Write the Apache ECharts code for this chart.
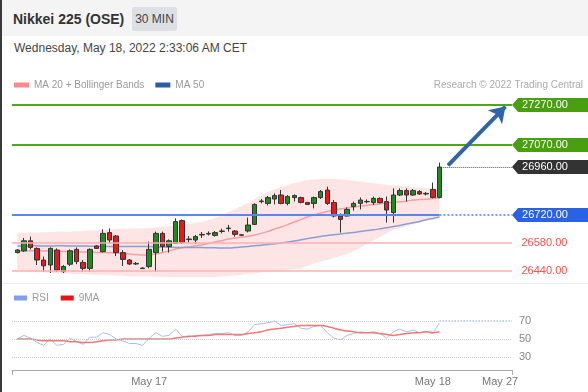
<!DOCTYPE html>
<html>
<head>
<meta charset="utf-8">
<script src="https://cdn.jsdelivr.net/npm/echarts/dist/echarts.min.js"></script>
<style>
  html, body { margin: 0; padding: 0; background: #fff; }
  body { width: 588px; height: 392px; position: relative; overflow: hidden; font-family: "Liberation Sans", Arial, sans-serif; }
  #leftEdge { position: absolute; left: 0; top: 0; width: 2px; height: 392px; background: #3a3a3a; z-index: 3; }
  #header { position: absolute; left: 0; top: 0; width: 588px; height: 36px; background: #f4f4f4; }
  #title { position: absolute; left: 13px; top: 0; line-height: 38px; font-size: 14px; font-weight: bold; color: #333; }
  #tf { position: absolute; left: 132px; top: 7px; width: 45px; height: 24px; line-height: 24px; text-align: center; background: #dcdfe3; color: #444; font-size: 12px; border-radius: 2px; }
  #date { position: absolute; left: 14px; top: 41px; line-height: 14px; font-size: 12px; color: #444; }
  #sep { position: absolute; left: 0; top: 283px; width: 588px; height: 1px; background: #ececec; }
  #chart { position: absolute; left: 0; top: 0; width: 588px; height: 392px; z-index: 2; }
</style>
</head>
<body>
<div id="header"><div id="title">Nikkei 225 (OSE)</div><div id="tf">30 MIN</div></div>
<div id="date">Wednesday, May 18, 2022 2:33:06 AM CET</div>
<div id="sep"></div>
<div id="leftEdge"></div>
<div id="chart"></div>
<script>
// ---- Data ----
const opens  = [26532,26541,26591,26553,26495,26470,26545,26437,26474,26548,26483,26453,26565,26537,26632,26615,26532,26495,26478,26455,
                26462,26532,26628,26562,26578,26692,26597,26595,26620,26625,26618,26638,26652,26640,26621,26640,26673,26790,26778,26800,
                26820,26778,26807,26807,26783,26778,26807,26845,26782,26715,26715,26762,26778,26788,26782,26803,26787,26732,26820,26842,
                26820,26837,26828,26848,26808];
const closes = [26545,26591,26558,26495,26466,26553,26445,26462,26541,26487,26453,26548,26553,26628,26595,26532,26498,26475,26475,26452,
                26548,26628,26562,26591,26687,26582,26600,26612,26623,26628,26632,26640,26655,26623,26619,26670,26773,26787,26807,26817,
                26778,26812,26817,26783,26773,26807,26837,26778,26715,26698,26748,26778,26795,26786,26803,26782,26745,26820,26842,26820,
                26842,26825,26825,26808,26960];
const lows   = [26528,26535,26548,26470,26437,26430,26437,26430,26465,26474,26437,26437,26550,26532,26578,26515,26465,26470,26470,26450,
                26453,26437,26537,26532,26575,26575,26582,26575,26605,26618,26612,26628,26637,26612,26617,26633,26670,26778,26768,26773,
                26773,26768,26787,26778,26770,26753,26800,26770,26708,26632,26712,26742,26748,26778,26770,26778,26682,26682,26815,26787,
                26815,26820,26818,26803,26803];
const highs  = [26550,26605,26612,26558,26512,26558,26553,26470,26548,26558,26495,26553,26570,26648,26653,26620,26545,26500,26485,26458,
                26587,26637,26637,26598,26703,26698,26615,26620,26635,26638,26640,26652,26670,26645,26623,26707,26778,26800,26815,26828,
                26845,26820,26823,26812,26785,26812,26845,26862,26795,26728,26758,26787,26808,26798,26812,26808,26812,26853,26853,26853,
                26850,26845,26835,26882,26982];
const ma20   = [26540,26540,26541,26541,26540,26540,26539,26538,26537,26536,26535,26534,26533,26532,26531,26530,26528,26525,26522,26520,
                26521,26525,26532,26540,26550,26556,26561,26566,26570,26578,26585,26592,26600,26605,26610,26614,26620,26628,26638,26650,
                26660,26672,26685,26697,26710,26720,26730,26738,26745,26750,26755,26760,26765,26768,26772,26776,26780,26783,26786,26789,
                26795,26797,26799,26802,26805];
const ma50   = [26565,26565,26566,26566,26565,26565,26566,26566,26565,26565,26565,26564,26564,26563,26563,26563,26562,26562,26562,26562,
                26562,26561,26560,26559,26558,26558,26557,26557,26557,26556,26556,26555,26555,26557,26560,26563,26566,26569,26573,26576,
                26580,26585,26590,26596,26602,26608,26613,26618,26621,26625,26629,26633,26637,26642,26646,26651,26656,26662,26668,26675,
                26681,26688,26696,26703,26710];
const bbUpper = [26630,26631,26632,26633,26634,26635,26636,26637,26638,26639,26640,26642,26644,26646,26648,26650,26651,26652,26653,26654,
                 26655,26658,26661,26664,26667,26670,26676,26680,26685,26695,26705,26718,26735,26750,26765,26780,26800,26818,26835,26848,
                 26860,26870,26880,26888,26895,26898,26900,26900,26900,26898,26895,26891,26887,26883,26879,26875,26871,26868,26865,26862,
                 26859,26856,26854,26852,26850];
const bbLower = [26445,26442,26438,26435,26432,26430,26428,26427,26426,26425,26425,26423,26421,26420,26419,26418,26416,26414,26413,26412,
                 26412,26411,26411,26410,26410,26410,26410,26410,26410,26410,26410,26412,26415,26418,26421,26425,26428,26432,26436,26440,
                 26443,26446,26449,26452,26465,26478,26487,26495,26505,26515,26525,26540,26555,26575,26592,26610,26628,26645,26655,26665,
                 26675,26683,26692,26700,26705];
const rsi    = [50,54,51,46,43,50,43,44,51,47,44,52,52,57,55,50,48,45,45,43,
                51,57,53,54,61,53,52,54,54,55,56,56,57,54,54,58,66,67,68,70,
                65,66,67,62,61,64,65,57,51,49,54,56,58,57,58,56,51,58,61,58,
                60,57,58,56,68];
const rsiMA  = [50,50,50,49,48,48,48,48,47,47,46,46,47,48,49,49,50,50,50,50,
                50,50,50,50,51,52,53,53,54,54,55,55,55,55,55,56,57,58,60,61,
                62,63,64,65,65,65,65,64,62,60,59,58,57,57,57,56,55,54,55,56,
                57,57,58,57,58];
const levelsGreen = [27270, 27070];
const levelsRed   = [26580, 26440];
const levelBlue   = 26720;
const lastPrice   = 26960;
const projection  = [[65.3, 26968], [74, 27262]];   // arrow: from last close toward target
const xTickPos    = [20, 63, 73.2];
const xTickLabels = ['May 17', 'May 18', 'May 27'];
const rsiTicks    = [30, 50, 70];
const X_MIN = -0.8, X_MAX = 75;

// ---- Build series data ----
const idx = opens.map((_, i) => i);
const lastIdx = idx.length - 1;
const candleData = idx.map(i => [i, opens[i], closes[i], lows[i], highs[i]]);
const pair = arr => arr.map((v, i) => [i, v]);

const FONT = '"Liberation Sans", Arial, sans-serif';
const tagPath = 'path://M0,7 L6,0 L76,0 L76,14 L6,14 Z';

function tag(value, color) {
  return {
    coord: [X_MAX, value], value: value.toFixed(2),
    symbol: tagPath, symbolSize: [76, 14], symbolOffset: [38, 0], symbolKeepAspect: false,
    itemStyle: { color: color },
    label: { show: true, position: 'inside', color: '#fff', fontSize: 11, fontFamily: FONT, offset: [-5, 0], formatter: p => p.value }
  };
}
function plainTag(value, color) {
  return {
    coord: [X_MAX, value], value: value.toFixed(2),
    symbol: 'rect', symbolSize: [1, 1], itemStyle: { color: 'rgba(0,0,0,0)' },
    label: { show: true, position: 'right', distance: 9, color: color, fontSize: 11, fontFamily: FONT, formatter: p => p.value }
  };
}

const chart = echarts.init(document.getElementById('chart'), null, { renderer: 'canvas' });
chart.setOption({
  animation: false,
  textStyle: { fontFamily: FONT },
  grid: [
    { left: 12, width: 500, top: 93, height: 190 },
    { left: 12, width: 500, top: 312, height: 54 }
  ],
  legend: [
    {
      left: 9, top: 75, icon: 'rect', itemWidth: 15, itemHeight: 5, itemGap: 11, selectedMode: false,
      textStyle: { color: '#999', fontSize: 10, fontFamily: FONT },
      data: [
        { name: 'MA 20 + Bollinger Bands', itemStyle: { color: '#f88a8a' } },
        { name: 'MA 50', itemStyle: { color: '#2d5aa3' } }
      ]
    },
    {
      left: 9, top: 288, icon: 'rect', itemWidth: 13, itemHeight: 5, itemGap: 12, selectedMode: false,
      textStyle: { color: '#999', fontSize: 10, fontFamily: FONT },
      data: [
        { name: 'RSI', itemStyle: { color: '#7f9ef0' } },
        { name: '9MA', itemStyle: { color: '#f01010' } }
      ]
    }
  ],
  graphic: [
    { type: 'text', right: 5, top: 80, style: { text: 'Research \u00a9 2022 Trading Central', fill: '#aaa', font: '10px ' + FONT } }
  ],
  xAxis: [
    { type: 'value', gridIndex: 0, min: X_MIN, max: X_MAX, show: false },
    {
      type: 'value', gridIndex: 1, min: X_MIN, max: X_MAX, offset: 4,
      axisLine: { show: true, lineStyle: { color: '#aaa', width: 1 } },
      axisTick: { show: true, customValues: [X_MIN, X_MAX], length: 5, lineStyle: { color: '#aaa' } },
      axisLabel: {
        customValues: xTickPos, color: '#777', fontSize: 11, margin: 6,
        formatter: v => { const k = xTickPos.indexOf(v); return k >= 0 ? xTickLabels[k] : ''; }
      },
      splitLine: { show: false }
    }
  ],
  yAxis: [
    { type: 'value', gridIndex: 0, min: 26380, max: 27330, show: false, scale: true },
    {
      type: 'value', gridIndex: 1, min: 20, max: 80, position: 'right',
      axisLine: { show: false }, axisTick: { show: false }, splitLine: { show: false },
      axisLabel: { customValues: rsiTicks, color: '#888', fontSize: 11, margin: 7 }
    }
  ],
  series: [
    {
      type: 'custom', name: 'bands', xAxisIndex: 0, yAxisIndex: 0, silent: true, z: 1,
      data: [[0, bbUpper[0]]],
      renderItem: (params, api) => {
        const pts = [];
        for (let i = 0; i <= lastIdx; i++) pts.push(api.coord([i, bbUpper[i]]));
        for (let i = lastIdx; i >= 0; i--) pts.push(api.coord([i, bbLower[i]]));
        return { type: 'polygon', shape: { points: pts }, style: { fill: 'rgba(248,150,150,0.25)' } };
      }
    },
    {
      type: 'line', name: 'MA 20 + Bollinger Bands', xAxisIndex: 0, yAxisIndex: 0, data: pair(ma20),
      showSymbol: false, smooth: 0.3, z: 2, lineStyle: { color: '#f6a0a0', width: 1.5 }, itemStyle: { color: '#f88a8a' }
    },
    {
      type: 'line', name: 'MA 50', xAxisIndex: 0, yAxisIndex: 0, data: pair(ma50),
      showSymbol: false, smooth: 0.3, z: 2, lineStyle: { color: '#8b9fd3', width: 1.5 }, itemStyle: { color: '#2d5aa3' }
    },
    {
      type: 'candlestick', name: 'Nikkei 225', xAxisIndex: 0, yAxisIndex: 0, data: candleData, barWidth: 5, z: 4,
      encode: { x: 0, y: [1, 2, 3, 4] },
      itemStyle: { color: '#1f8a22', color0: '#e8181b', borderColor: '#333', borderColor0: '#333', borderWidth: 1 },
      markLine: {
        silent: true, symbol: ['none', 'none'], label: { show: false }, animation: false,
        data: [
          ...levelsGreen.map(v => ({ yAxis: v, lineStyle: { color: '#4fa812', width: 2, type: 'solid' } })),
          ...levelsRed.map(v => ({ yAxis: v, lineStyle: { color: '#fbb0b0', width: 1.5, type: 'solid' } })),
          [{ coord: [X_MIN, levelBlue], lineStyle: { color: '#5b86ef', width: 2, type: 'solid' } }, { coord: [lastIdx, levelBlue] }],
          [{ coord: [lastIdx, levelBlue], lineStyle: { color: '#7c9ef2', width: 2, type: 'dotted' } }, { coord: [X_MAX, levelBlue] }],
          [{ coord: [lastIdx + 0.5, lastPrice], lineStyle: { color: '#555', width: 1, type: 'dotted' } }, { coord: [X_MAX, lastPrice] }],
          [{ coord: projection[0], symbol: 'none', lineStyle: { color: '#2d64aa', width: 4, type: 'solid' } },
           { coord: projection[1], symbol: 'arrow', symbolSize: 15 }]
        ]
      },
      markPoint: {
        silent: true, animation: false,
        data: [
          tag(levelsGreen[0], '#4a9f10'),
          tag(levelsGreen[1], '#4a9f10'),
          tag(lastPrice, '#333333'),
          tag(levelBlue, '#2a62e6'),
          plainTag(levelsRed[0], '#f25454'),
          plainTag(levelsRed[1], '#f25454')
        ]
      }
    },
    {
      type: 'line', name: 'RSI', xAxisIndex: 1, yAxisIndex: 1, data: pair(rsi), showSymbol: false, z: 3,
      lineStyle: { color: '#a9bdf5', width: 1 }, itemStyle: { color: '#7f9ef0' },
      markLine: {
        silent: true, symbol: ['none', 'none'], label: { show: false }, animation: false,
        data: [
          { yAxis: rsiTicks[0], lineStyle: { color: '#ccc', width: 1, type: 'dotted' } },
          { yAxis: rsiTicks[1], lineStyle: { color: '#ccc', width: 1, type: 'dotted' } },
          [{ coord: [X_MIN, rsiTicks[2]], lineStyle: { color: '#ccc', width: 1, type: 'dotted' } }, { coord: [lastIdx, rsiTicks[2]] }],
          [{ coord: [lastIdx, rsiTicks[2]], lineStyle: { color: '#a9c0f3', width: 1.5, type: 'dotted' } }, { coord: [X_MAX, rsiTicks[2]] }]
        ]
      }
    },
    {
      type: 'line', name: '9MA', xAxisIndex: 1, yAxisIndex: 1, data: pair(rsiMA), showSymbol: false, smooth: 0.3, z: 4,
      lineStyle: { color: '#f27878', width: 1.5 }, itemStyle: { color: '#f01010' }
    }
  ]
});
</script>
</body>
</html>
